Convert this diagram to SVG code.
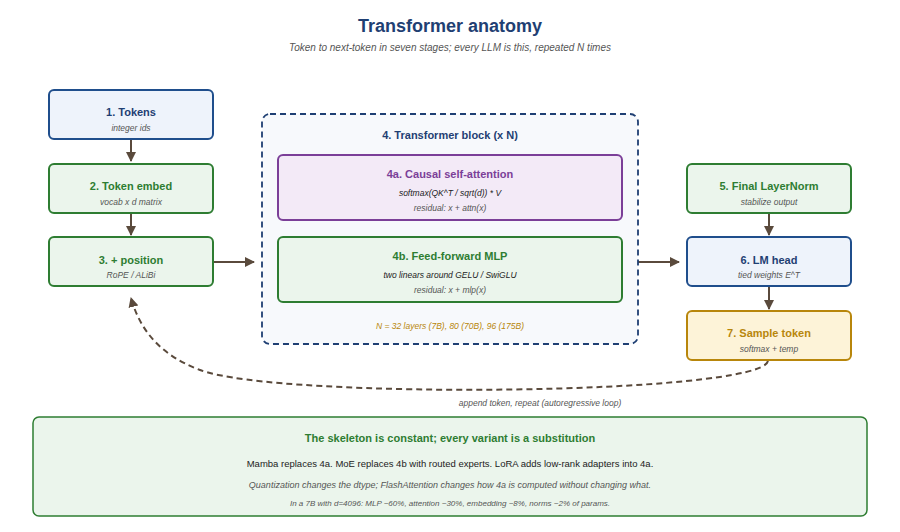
<svg xmlns="http://www.w3.org/2000/svg" width="900" height="532" viewBox="0 0 900 532">
<style>
text{font-family:"Liberation Sans",Arial,sans-serif;text-anchor:middle}
.t{font-size:11px;font-weight:bold}
.s{font-size:8.5px;font-style:italic;fill:#555}
.blue rect{fill:#eef3fb;stroke:#1f4e8c;stroke-width:2}
.blue .t{fill:#1f3f73}
.green rect{fill:#ebf5ec;stroke:#2e7d32;stroke-width:2}
.green .t{fill:#2e7d32}
.c{stroke:#5a4a3c;stroke-width:2;fill:none}
</style>
<defs>
<marker id="a" viewBox="0 0 10 10" refX="9" refY="5" markerWidth="5" markerHeight="5" orient="auto"><path d="M0,0L10,5L0,10z" fill="#5a4a3c"/></marker>
</defs>
<rect width="900" height="532" fill="#fff"/>
<text x="450" y="32" style="font-size:18px;font-weight:bold;fill:#1f3f73">Transformer anatomy</text>
<text x="450" y="51" style="font-size:10px;font-style:italic;fill:#555">Token to next-token in seven stages; every LLM is this, repeated N times</text>

<g id="connectors">
<line class="c" x1="131" y1="139" x2="131" y2="161" marker-end="url(#a)"/>
<line class="c" x1="131" y1="213" x2="131" y2="235" marker-end="url(#a)"/>
<line class="c" x1="213" y1="262" x2="254" y2="262" marker-end="url(#a)"/>
<line class="c" x1="638" y1="262" x2="679" y2="262" marker-end="url(#a)"/>
<line class="c" x1="769" y1="213" x2="769" y2="235" marker-end="url(#a)"/>
<line class="c" x1="769" y1="286" x2="769" y2="309" marker-end="url(#a)"/>
<path class="c" d="M768,361 C760,395 280,400 200,370 C160,355 140,330 131,298" stroke-dasharray="6,4" marker-end="url(#a)"/>
<text x="540" y="406" style="font-size:8.5px;font-style:italic;fill:#555">append token, repeat (autoregressive loop)</text>
</g>

<g id="n1" class="blue"><rect x="49" y="90" width="164" height="49" rx="5"/><text class="t" x="131" y="116">1. Tokens</text><text class="s" x="131" y="131">integer ids</text></g>
<g id="n2" class="green"><rect x="49" y="164" width="164" height="49" rx="5"/><text class="t" x="131" y="190">2. Token embed</text><text class="s" x="131" y="205">vocab x d matrix</text></g>
<g id="n3" class="green"><rect x="49" y="237" width="164" height="49" rx="5"/><text class="t" x="131" y="264">3. + position</text><text class="s" x="131" y="278">RoPE / ALiBi</text></g>

<g id="n4">
<rect x="262" y="114" width="376" height="230" rx="8" fill="#f7f9fc" stroke="#1f3f73" stroke-width="1.8" stroke-dasharray="6,4"/>
<text class="t" x="450" y="139" style="fill:#1f3f73">4. Transformer block (x N)</text>
<text x="450" y="329" style="font-size:8.5px;font-style:italic;fill:#b8860b">N = 32 layers (7B), 80 (70B), 96 (175B)</text>
</g>
<g id="n4a"><rect x="278" y="155" width="344" height="65" rx="5" fill="#f3eaf7" stroke="#7b3f98" stroke-width="2"/><text class="t" x="450" y="178" style="fill:#7b3f98">4a. Causal self-attention</text><text x="450" y="196" style="font-size:8.5px;font-style:italic;fill:#222">softmax(QK^T / sqrt(d)) * V</text><text class="s" x="450" y="211">residual: x + attn(x)</text></g>
<g id="n4b" class="green"><rect x="278" y="237" width="344" height="65" rx="5"/><text class="t" x="450" y="260">4b. Feed-forward MLP</text><text x="450" y="278" style="font-size:8.5px;font-style:italic;fill:#222">two linears around GELU / SwiGLU</text><text class="s" x="450" y="293">residual: x + mlp(x)</text></g>

<g id="n5" class="green"><rect x="687" y="164" width="164" height="49" rx="5"/><text class="t" x="769" y="190">5. Final LayerNorm</text><text class="s" x="769" y="205">stabilize output</text></g>
<g id="n6" class="blue"><rect x="687" y="237" width="164" height="49" rx="5"/><text class="t" x="769" y="264">6. LM head</text><text class="s" x="769" y="278">tied weights E^T</text></g>
<g id="n7"><rect x="687" y="311" width="164" height="49" rx="5" fill="#fdf3d8" stroke="#b8860b" stroke-width="2"/><text class="t" x="769" y="337" style="fill:#b8860b">7. Sample token</text><text class="s" x="769" y="352">softmax + temp</text></g>

<g id="note">
<rect x="33" y="417" width="834" height="99" rx="6" fill="#ebf5ec" stroke="#2e7d32" stroke-width="1.5"/>
<text x="450" y="442" style="font-size:11px;font-weight:bold;fill:#2e7d32">The skeleton is constant; every variant is a substitution</text>
<text x="450" y="467" style="font-size:9.5px;fill:#222">Mamba replaces 4a. MoE replaces 4b with routed experts. LoRA adds low-rank adapters into 4a.</text>
<text x="450" y="488" style="font-size:9px;font-style:italic;fill:#555">Quantization changes the dtype; FlashAttention changes how 4a is computed without changing what.</text>
<text x="450" y="506" style="font-size:8px;font-style:italic;fill:#555">In a 7B with d=4096: MLP ~60%, attention ~30%, embedding ~8%, norms ~2% of params.</text>
</g>
</svg>
